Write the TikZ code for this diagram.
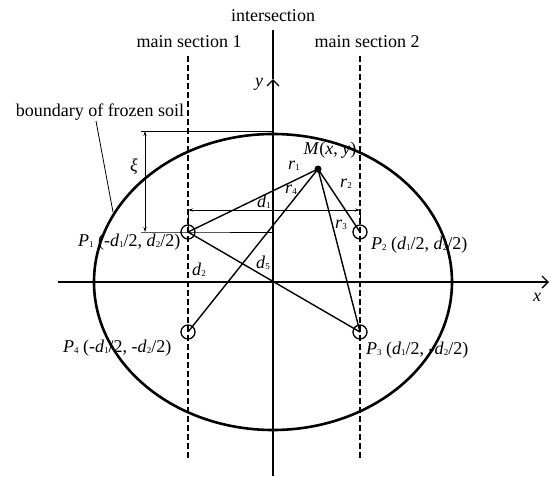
\documentclass[tikz,border=0pt]{standalone}
\usepackage{fontspec}
\setmainfont{Liberation Serif}
\usetikzlibrary{arrows.meta}
\newcommand{\lowidx}[1]{\raisebox{-1.5pt}{\fontsize{9}{9}\selectfont #1}}
\newcommand{\vd}[1]{\textit{d}\lowidx{#1}}
\newcommand{\vp}[1]{\textit{P}\lowidx{#1}}
\newcommand{\vr}[1]{\textit{r}\lowidx{#1}}
\tikzset{
  txt/.style={inner sep=0pt, font=\fontsize{18}{20}\selectfont},
  hole/.style={circle, draw, line width=1.3pt, minimum size=14pt, inner sep=0pt},
  frost/.style={line width=2.6pt},
  ray/.style={line width=1.4pt},
  section/.style={dash pattern=on 6pt off 3pt, line width=1.3pt},
  axis/.style={line width=1.4pt, -{Straight Barb[length=6pt, width=12pt, line width=1.3pt]}},
  dim/.style={line width=0.8pt, {Stealth[length=5pt, width=3pt]}-{Stealth[length=5pt, width=3pt]}},
  ext/.style={line width=0.8pt},
}

\begin{document}
\begin{tikzpicture}[x=1pt, y=-1pt]
    \useasboundingbox (0,0) rectangle (550,477);
    % origin and frozen soil boundary
    \coordinate (O) at (273,282);
    \draw[frost] (O) ellipse [x radius=179, y radius=148];
    % axes
    \coordinate (xbeg) at (58,282);
    \coordinate (xend) at (549,282);
    \coordinate (ybeg) at (273,476);
    \coordinate (ytip) at (273,79);
    \coordinate (ytop) at (273,30);
    \draw[axis] (xbeg) -- (xend);
    \draw[axis] (ybeg) -- (ytip);
    \draw[ray] (ytip) -- (ytop);
    \node[txt] (xlab) at (537,297) {\textit{x}};
    \node[txt] (ylab) at (259,84) {\textit{y}};
    % section labels and dashed sections
    \node[txt] (inter) at (273,16) {intersection};
    \node[txt] (sec1) at (189,42) {main section 1};
    \node[txt] (sec2) at (367,42) {main section 2};
    \coordinate (s1top) at (188,56);
    \coordinate (s1bot) at (188,458);
    \coordinate (s2top) at (360,56);
    \coordinate (s2bot) at (360,458);
    \draw[section] (s1top) -- (s1bot);
    \draw[section] (s2top) -- (s2bot);
    % boundary label
    \node[txt] (bnd) at (100,112) {boundary of frozen soil};
    \coordinate (bndfoot) at (113,212);
    \draw[ext] (96,121) -- (bndfoot);
    % freezing pipes and the point M
    \node[hole] (P1) at (188,232) {};
    \node[hole] (P2) at (360,232) {};
    \node[hole] (P3) at (360,332) {};
    \node[hole] (P4) at (188,332) {};
    \node[circle, fill, inner sep=0pt, minimum size=7pt] (M) at (318,169) {};
    \draw[ray] (M.center) -- (P1.center);
    \draw[ray] (M.center) -- (P2.center);
    \draw[ray] (M.center) -- (P3.center);
    \draw[ray] (M.center) -- (P4.center);
    \draw[ray] (P1.center) -- (P3.center);
    % dimension xi
    \coordinate (xitop) at (145,131);
    \coordinate (xibot) at (145,232);
    \draw[ext] (141,131) -- (273,131);
    \draw[ext] (141,232) -- (P1.center) -- (273,232);
    \draw[dim] (xitop) -- (xibot);
    \node[txt] (xi) at (134,167) {\textit{ξ}};
    % dimension d1
    \coordinate (d1l) at (188,210);
    \coordinate (d1r) at (360,210);
    \draw[ext] (d1l) -- (P1.center);
    \draw[ext] (d1r) -- (360,222);
    \draw[dim] (d1l) -- (d1r);
    % labels
    \node[txt] (Mlab) at (330,150) {\textit{M}(\textit{x}, \textit{y})};
    \node[txt] (r1) at (294,166) {\vr{1}};
    \node[txt] (r4) at (291,190) {\vr{4}};
    \node[txt] (r2) at (346,184) {\vr{2}};
    \node[txt] (r3) at (341,225) {\vr{3}};
    \node[txt] (d1) at (264,202) {\vd{1}};
    \node[txt] (d2) at (199,270) {\vd{2}};
    \node[txt] (d5) at (263,263) {\vd{5}};
    \node[txt, anchor=west] (P1lab) at (78,242) {\vp{1} (-\vd{1}/2, \vd{2}/2)};
    \node[txt, anchor=west] (P2lab) at (371,245) {\vp{2} (\vd{1}/2, \vd{2}/2)};
    \node[txt, anchor=west] (P3lab) at (366,350) {\vp{3} (\vd{1}/2, -\vd{2}/2)};
    \node[txt, anchor=west] (P4lab) at (63,348) {\vp{4} (-\vd{1}/2, -\vd{2}/2)};
  \end{tikzpicture}
\end{document}
